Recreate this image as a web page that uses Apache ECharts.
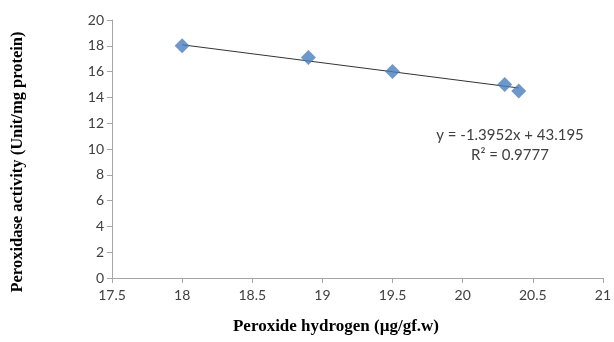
<!DOCTYPE html>
<html>
<head>
<meta charset="utf-8">
<script src="https://cdn.jsdelivr.net/npm/echarts@6/dist/echarts.min.js"></script>
<style>html,body{margin:0;padding:0;background:#fff}#c{width:614px;height:342px}</style>
</head>
<body>
<div id="c"></div>
<script>
var xValues = [18, 18.9, 19.5, 20.3, 20.4];
var yValues = [18, 17.1, 16, 15, 14.5];
var trendX = [18, 20.4];
var trendY = [18.08, 14.73];
var xTitle = 'Peroxide hydrogen (µg/gf.w)';
var yTitle = 'Peroxidase activity (Unit/mg protein)';
var eqText = 'y = -1.3952x + 43.195';
var r2Text = 'R² = 0.9777';

var chart = echarts.init(document.getElementById('c'));
var labelFont = {color: '#404040', fontSize: 14, fontFamily: 'Lato, "Open Sans", sans-serif'};
chart.setOption({
  animation: false,
  grid: {left: 112, right: 2, top: 20, bottom: 64},
  xAxis: {
    type: 'value', min: 17.5, max: 21, interval: 0.5,
    axisLine: {lineStyle: {color: '#a6a6a6'}},
    axisTick: {show: true, length: 5, lineStyle: {color: '#a6a6a6'}},
    splitLine: {show: false},
    axisLabel: Object.assign({margin: 10}, labelFont)
  },
  yAxis: {
    type: 'value', min: 0, max: 20, interval: 2,
    axisLine: {show: true, lineStyle: {color: '#a6a6a6'}},
    axisTick: {show: true, length: 5, lineStyle: {color: '#a6a6a6'}},
    splitLine: {show: false},
    axisLabel: Object.assign({margin: 8}, labelFont)
  },
  series: [
    {
      type: 'line',
      data: trendX.map(function (x, i) { return [x, trendY[i]]; }),
      showSymbol: false,
      lineStyle: {color: '#333', width: 1},
      z: 1
    },
    {
      type: 'scatter',
      data: xValues.map(function (x, i) { return [x, yValues[i]]; }),
      symbol: 'diamond',
      symbolSize: 15,
      itemStyle: {color: '#4a7ebb'},
      z: 2
    }
  ],
  graphic: [
    {type: 'text', x: 336, y: 327, style: {text: xTitle, fill: '#000', font: 'bold 17px "Liberation Serif", serif', textAlign: 'center', textVerticalAlign: 'middle'}},
    {type: 'text', x: 18, y: 162, rotation: Math.PI / 2, style: {text: yTitle, fill: '#000', font: 'bold 16.5px "Liberation Serif", serif', textAlign: 'center', textVerticalAlign: 'middle'}},
    {type: 'text', x: 510, y: 135, style: {text: eqText, fill: '#404040', font: '15px Lato, sans-serif', textAlign: 'center', textVerticalAlign: 'middle'}},
    {type: 'text', x: 510, y: 155, style: {text: r2Text, fill: '#404040', font: '15px Lato, sans-serif', textAlign: 'center', textVerticalAlign: 'middle'}}
  ]
});
</script>
</body>
</html>
